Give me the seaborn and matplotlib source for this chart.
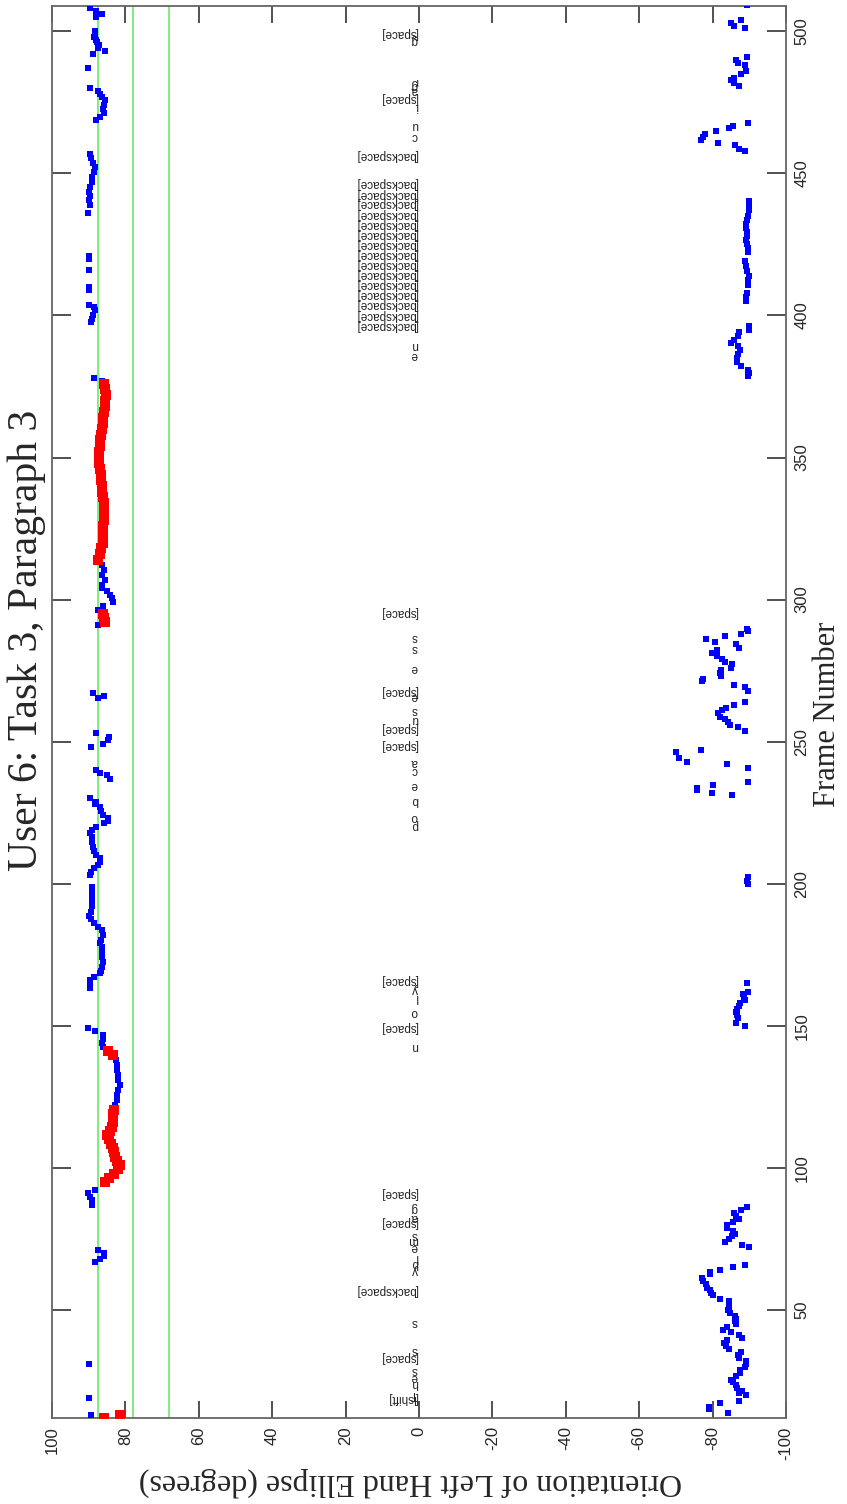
import numpy as np
import pandas as pd
import matplotlib
matplotlib.use('Agg')
import matplotlib.pyplot as plt
import seaborn as sns

sns.set_theme(style='white')
plt.rcParams['font.family'] = ['Liberation Sans', 'DejaVu Sans']

# ---------------- data ----------------
blue_frame = [508.1, 507, 506, 505.1, 500.1, 499.2, 498.1, 497.1, 496.3, 495, 494, 493, 492.1, 487,
              479.9, 478.9, 477.8, 476.9, 475.8, 474.2, 472.8, 471.1, 469.9, 468.9,
              456.9, 455.4, 453.7, 452.2, 450.4, 448.6, 446.9, 445.1, 443.4, 442, 440.8, 439, 436.1,
              420.8, 419.9, 415.9, 410, 408.9, 403.8, 403, 401.8, 400.3, 398.8, 397.6, 378, 376.8,
              314, 312.3, 310.5, 308.7, 307, 305.2, 304, 302.9, 301.7, 300.5, 299.1, 297.9, 296.4, 291.1,
              267.3, 266, 265.2, 253, 251.8, 250.6, 249.2, 248, 240.1, 238.9, 238.1, 236.9,
              230.3, 228.9, 228, 226.9, 225.7, 224.2, 223, 222.2, 221.3, 220.1, 219, 217.8, 216.4, 214.8,
              213.1, 211.7, 210.1, 209, 207.8, 206.6, 205.4, 204.3, 203.1, 199, 197.2, 195.5, 193.7, 192,
              190.2, 188.7, 187.5, 186.1, 184.7, 183.7, 182, 180.2, 179, 177.9, 176.1, 174.3, 172.6,
              170.8, 169.4, 168.5, 167.3, 166.1, 164.4, 163.2, 149.1, 148.2, 146.8, 145.3, 143.8, 142.4,
              138, 136.2, 134.4, 132.7, 130.9, 129.1, 127.4, 125.6, 123.9, 122.1, 120.6,
              95.1, 92.2, 91, 89.8, 88.6, 86.9, 71, 69.9, 68.9, 67.8, 66.9, 31.1, 19.2, 12.9,
              # wrapped (negative) orientations
              509.1, 503.9, 503, 502, 501, 490.9, 489.8, 488.9, 488, 486, 485, 483.6, 482.8, 481.9, 480.9,
              467.8, 466.8, 465.8, 464.8, 463.7, 462.7, 461.9, 460.7, 459.9, 458.7, 457.8,
              440.2, 438.4, 437, 435.1, 433.7, 432.3, 430.8, 429.4, 427.9, 426.5, 425.3, 423.8, 422.2,
              419.1, 417.5, 415.5, 414, 412.4, 410.8, 407.9, 406.4, 405,
              396.4, 395, 394.1, 392.7, 391.2, 390.3, 389.1, 387.7, 386.6, 385, 383.5, 382.1, 380.9, 379.7, 378.8,
              289.8, 288.8, 287.8, 287.2, 286.1, 285.1, 284.2, 283.1, 282.1, 281.2, 280.2, 279.2, 278.1,
              277.2, 276.1, 275.1, 274.1, 273.2, 272.1, 271.2, 270, 269.1, 268,
              264, 263, 262, 261.1, 260, 258.8, 257.9, 257, 255.9, 255, 253.9,
              246.9, 246.4, 244.3, 242.9, 242, 240.9, 235.8, 234.8, 233.6, 233, 231.9, 231.2,
              202.3, 201.1, 199.9,
              165.2, 162, 161.1, 160.2, 159.1, 158.1, 157.1, 156, 155, 153.8, 152.6, 151.1, 150,
              86.1, 85.1, 84, 83, 82.1, 81, 79.8, 78.7, 77.9, 76.9, 76, 74.9, 74, 73, 72,
              66, 65.2, 64.2, 63.4, 62.5, 61.3, 60.2, 59.1, 57.9, 56.9, 56, 55.1, 54, 53.1, 52, 51.1,
              49.9, 49, 48, 47, 46.2, 45, 44.1, 43.1, 42.2, 41.1, 40.2, 39.4, 38.4, 37.2, 36.1, 35.1,
              34.1, 33.1, 32.1, 31.1, 29.9, 28.8, 27.8, 26.7, 25.5, 24.6, 23.5, 22.6, 21.5, 20.8, 20,
              18, 17.1, 15.9, 15, 13.9]
blue_deg = [89.6, 88, 86.3, 88, 88.4, 88.3, 88.5, 88, 87.7, 87.2, 87.4, 85.5, 88.8, 90.2,
            89.6, 87.6, 86.9, 86.4, 85.6, 85.8, 86, 85.7, 86.9, 88.1,
            89.6, 89.3, 88.8, 88.4, 88.6, 89, 89.2, 89.7, 90, 89.7, 90, 89.6, 90.3,
            89.9, 89.9, 89.9, 89.9, 89.9, 89.9, 88.6, 88.4, 88.8, 89.2, 89.3, 88.5, 86.3,
            88.1, 86.3, 85.8, 86.3, 85.5, 86.3, 86.4, 84.9, 84.3, 83.7, 83.4, 86.1, 87.6, 87.6,
            88.8, 85.7, 87.6, 88, 84.6, 84.8, 86.1, 89.4, 88, 86.8, 85.1, 84.2,
            89.6, 88.1, 88.4, 87, 86.6, 86.1, 84.7, 84.8, 85.8, 87.9, 89.2, 89.7, 89.2, 89,
            88.9, 88.6, 88, 86.9, 86.9, 87.6, 88.5, 89.3, 89.6, 89.2, 89, 89.1, 89, 89.2,
            89.4, 89.9, 89.3, 88.5, 87.4, 86.5, 86.1, 86.6, 86.8, 86.4, 86.4, 86.3, 86,
            86.4, 86.7, 86.9, 88.6, 89.6, 89.6, 89.6, 90.2, 88.4, 86.1, 86.1, 86.4, 86,
            82.6, 82.2, 82.4, 82.1, 81.9, 81.6, 82.1, 82.2, 82.4, 82.8, 83.1,
            85.5, 88.3, 90.1, 89.6, 89, 89.2, 87.6, 85.8, 85.8, 87, 88.4, 89.9, 89.9, 89.4,
            -89.4, -87.6, -85.1, -85.8, -88.9, -89.4, -86.3, -86.9, -88.9, -89.2, -87.6, -85.8, -85.1, -85.8, -87.3,
            -89.7, -85.5, -84.4, -80.8, -77.8, -77.3, -76.9, -81.4, -86, -87.1, -88.9,
            -89.9, -89.9, -89.9, -89.7, -89.3, -89.2, -89.2, -89.5, -89.4, -89, -89.3, -89.6, -89.6,
            -88.9, -89.2, -89.4, -89.8, -89.6, -89.6, -89.3, -89, -89.2,
            -89.9, -89.9, -87.3, -86.9, -85.8, -85.1, -86.9, -87.5, -86.9, -86.7, -86.7, -87.6, -89.6, -89.8, -89.6,
            -89.4, -89.7, -87.6, -83.3, -78.3, -80.6, -86.3, -87.1, -81.2, -79.9, -81.2, -82.6, -83.4,
            -85.3, -85.1, -82.4, -81.9, -82.4, -77.5, -77, -85.8, -88.7, -89.7,
            -88.7, -85.8, -83.7, -82.5, -81.6, -82.1, -83.4, -84.2, -84.8, -86.8, -88.7,
            -76.9, -70.1, -70.9, -73, -84, -89.7, -89.7, -80.1, -75.7, -75.7, -79.9, -85.3,
            -89.7, -89.5, -89.7,
            -89.4, -89.7, -88.4, -88.5, -88.7, -87.5, -87.2, -86.6, -86.4, -86.6, -86.9, -86.3, -88.7,
            -89.4, -87.6, -85.8, -86.4, -87.3, -85.5, -84, -84, -85.5, -86, -85.3, -84.6, -83.5, -87.9, -89.9,
            -88.7, -85.5, -81.9, -79.3, -79.3, -77.2, -77.5, -78.3, -78.6, -79.2, -79.6, -80.1, -81.9, -84.4, -84.6, -84.4,
            -84.3, -84.8, -86.1, -86.4, -86.1, -86.3, -83.9, -82.8, -85.1, -87.3, -88.1, -83.9, -83, -83.7, -84.6, -87.8,
            -86.9, -87.1, -89.2, -89, -88.7, -87.5, -87.5, -86.3, -84.9, -85.5, -86.4, -86.6, -87.9, -87.2, -89.2,
            -87.1, -81.9, -78.9, -79, -84.2]

red_frame = [12, 13,
             95, 96.5, 98, 99.5, 101, 102.5, 104, 105.5, 107, 108.5, 110, 111.5, 113, 114.5, 116, 117.5, 119, 120.5,
             139.7, 141,
             292, 293.5, 295,
             314, 316, 318, 320, 322, 324, 326, 328, 330, 332, 334, 336, 338, 340, 342, 344, 346, 348, 350,
             352, 354, 356, 358, 360, 362, 364, 366, 368, 370, 372, 374, 376]
red_deg = [85.8, 81.5,
           85.5, 84.4, 83.1, 81.9, 81.6, 82.2, 82.8, 83.2, 83.4, 83.8, 84.5, 84.9, 84.3, 83.6, 83.4, 83.4, 83.3, 83.2,
           83.3, 84.7,
           85.6, 85.9, 86.0,
           87.6, 87.0, 86.6, 86.2, 86.1, 86.2, 86.0, 85.8, 85.7, 85.7, 85.9, 86.1, 86.3, 86.5, 86.6, 86.7, 86.9, 87.1, 87.1,
           87.2, 87.0, 86.8, 86.6, 86.4, 86.2, 86.1, 85.8, 85.5, 85.5, 85.4, 85.6, 85.8]

thresholds = [87.5, 77.8, 68.2]

key_frame = [18.9, 20.5, 24.2, 26.4, 28.8, 33.4, 35.8, 45.8, 57, 64, 66.4, 68.7, 72.2, 74.6, 76.3, 81, 82.8, 85.8, 91,
             143, 149.5, 155, 160, 163, 166,
             220.6, 223.4, 229.4, 234.7, 240, 242.8, 248.8, 254.8, 258, 261, 266, 268, 276, 283, 287, 295.5,
             386.2, 389.7,
             396.8, 400.3, 403.9, 407.4, 411, 414.5, 418.1, 421.6, 425.2, 428.7, 432.3, 435.8, 439.4, 442.9, 446.5,
             456.5,
             463.2, 467, 473.6, 476.6, 479.5, 481, 482.4, 497, 499.5]
key_label = ['[lshift]', 'T', 'h', 'e', 's', '[space]', 's', 's', '[backspace]', 'y', 'b', 'l', 'e', 'm', 's',
             '[space]', 'a', 'g', '[space]',
             'n', '[space]', 'o', 'l', 'y', '[space]',
             'p', 'o', 'b', 'e', 'c', 'a', '[space]', '[space]', 'u', 's', 'e', '[space]', 'e', 's', 's', '[space]',
             'e', 'n'] + ['[backspace]'] * 16 + \
            ['c', 'u', 'i', '[space]', 'a', 'g', 'r', 'g', '[space]']

deg_ticks = [100, 80, 60, 40, 20, 0, -20, -40, -60, -80, -100]
frame_ticks = [50, 100, 150, 200, 250, 300, 350, 400, 450, 500]

# ---------------- figure ----------------
fig = plt.figure(figsize=(8.47, 15.04), dpi=100)
ax = fig.add_axes([0.0614, 0.0572, 0.8666, 0.9390])

for t in thresholds:
    ax.axvline(t, color='#7ded7d', lw=1.4, zorder=0)

df_b = pd.DataFrame({'deg': blue_deg, 'frame': blue_frame})
df_r = pd.DataFrame({'deg': red_deg, 'frame': red_frame})
sns.scatterplot(data=df_b, x='deg', y='frame', marker='s', color='#0000ff', s=14,
                linewidth=0, ax=ax, zorder=3)
sns.scatterplot(data=df_r, x='deg', y='frame', marker='s', color='#ff0000', s=44,
                linewidth=0, ax=ax, zorder=4)

for f, lab in zip(key_frame, key_label):
    ax.text(0.3, f, lab, rotation=180, ha='right', va='center', fontsize=8.5,
            color='#222222', zorder=5)

ax.set_xlim(100, -100)
ax.set_ylim(12, 509)
ax.set_xticks(deg_ticks)
ax.set_xticklabels([str(v) for v in deg_ticks], rotation=90, fontsize=12)
ax.set_yticks(frame_ticks)
ax.set_yticklabels([str(v) for v in frame_ticks], rotation=90, va='center', fontsize=12)
ax.yaxis.tick_right()
ax.tick_params(axis='y', left=True, right=True, direction='in', length=14, width=1.2,
               labelleft=False, labelright=True, color='#333333', pad=6)
ax.tick_params(axis='x', top=True, bottom=True, direction='in', length=12, width=1.2,
               color='#333333', pad=6)
for sp in ax.spines.values():
    sp.set_color('#666666')
    sp.set_linewidth(1.3)
ax.set_xlabel('')
ax.set_ylabel('')
ax.grid(False)

fig.text(0.977, 0.525, 'Frame Number', rotation=90, ha='center', va='center',
         fontsize=22, family=['Liberation Serif', 'DejaVu Serif'])
fig.text(0.484, 0.0145, 'Orientation of Left Hand Ellipse (degrees)', rotation=180,
         ha='center', va='center', fontsize=23, family=['Liberation Serif', 'DejaVu Serif'])
fig.text(0.031, 0.574, 'User 6: Task 3, Paragraph 3', rotation=90, ha='center', va='center',
         fontsize=30, family=['Liberation Serif', 'DejaVu Serif'])

fig.savefig('out.png', dpi=100)
